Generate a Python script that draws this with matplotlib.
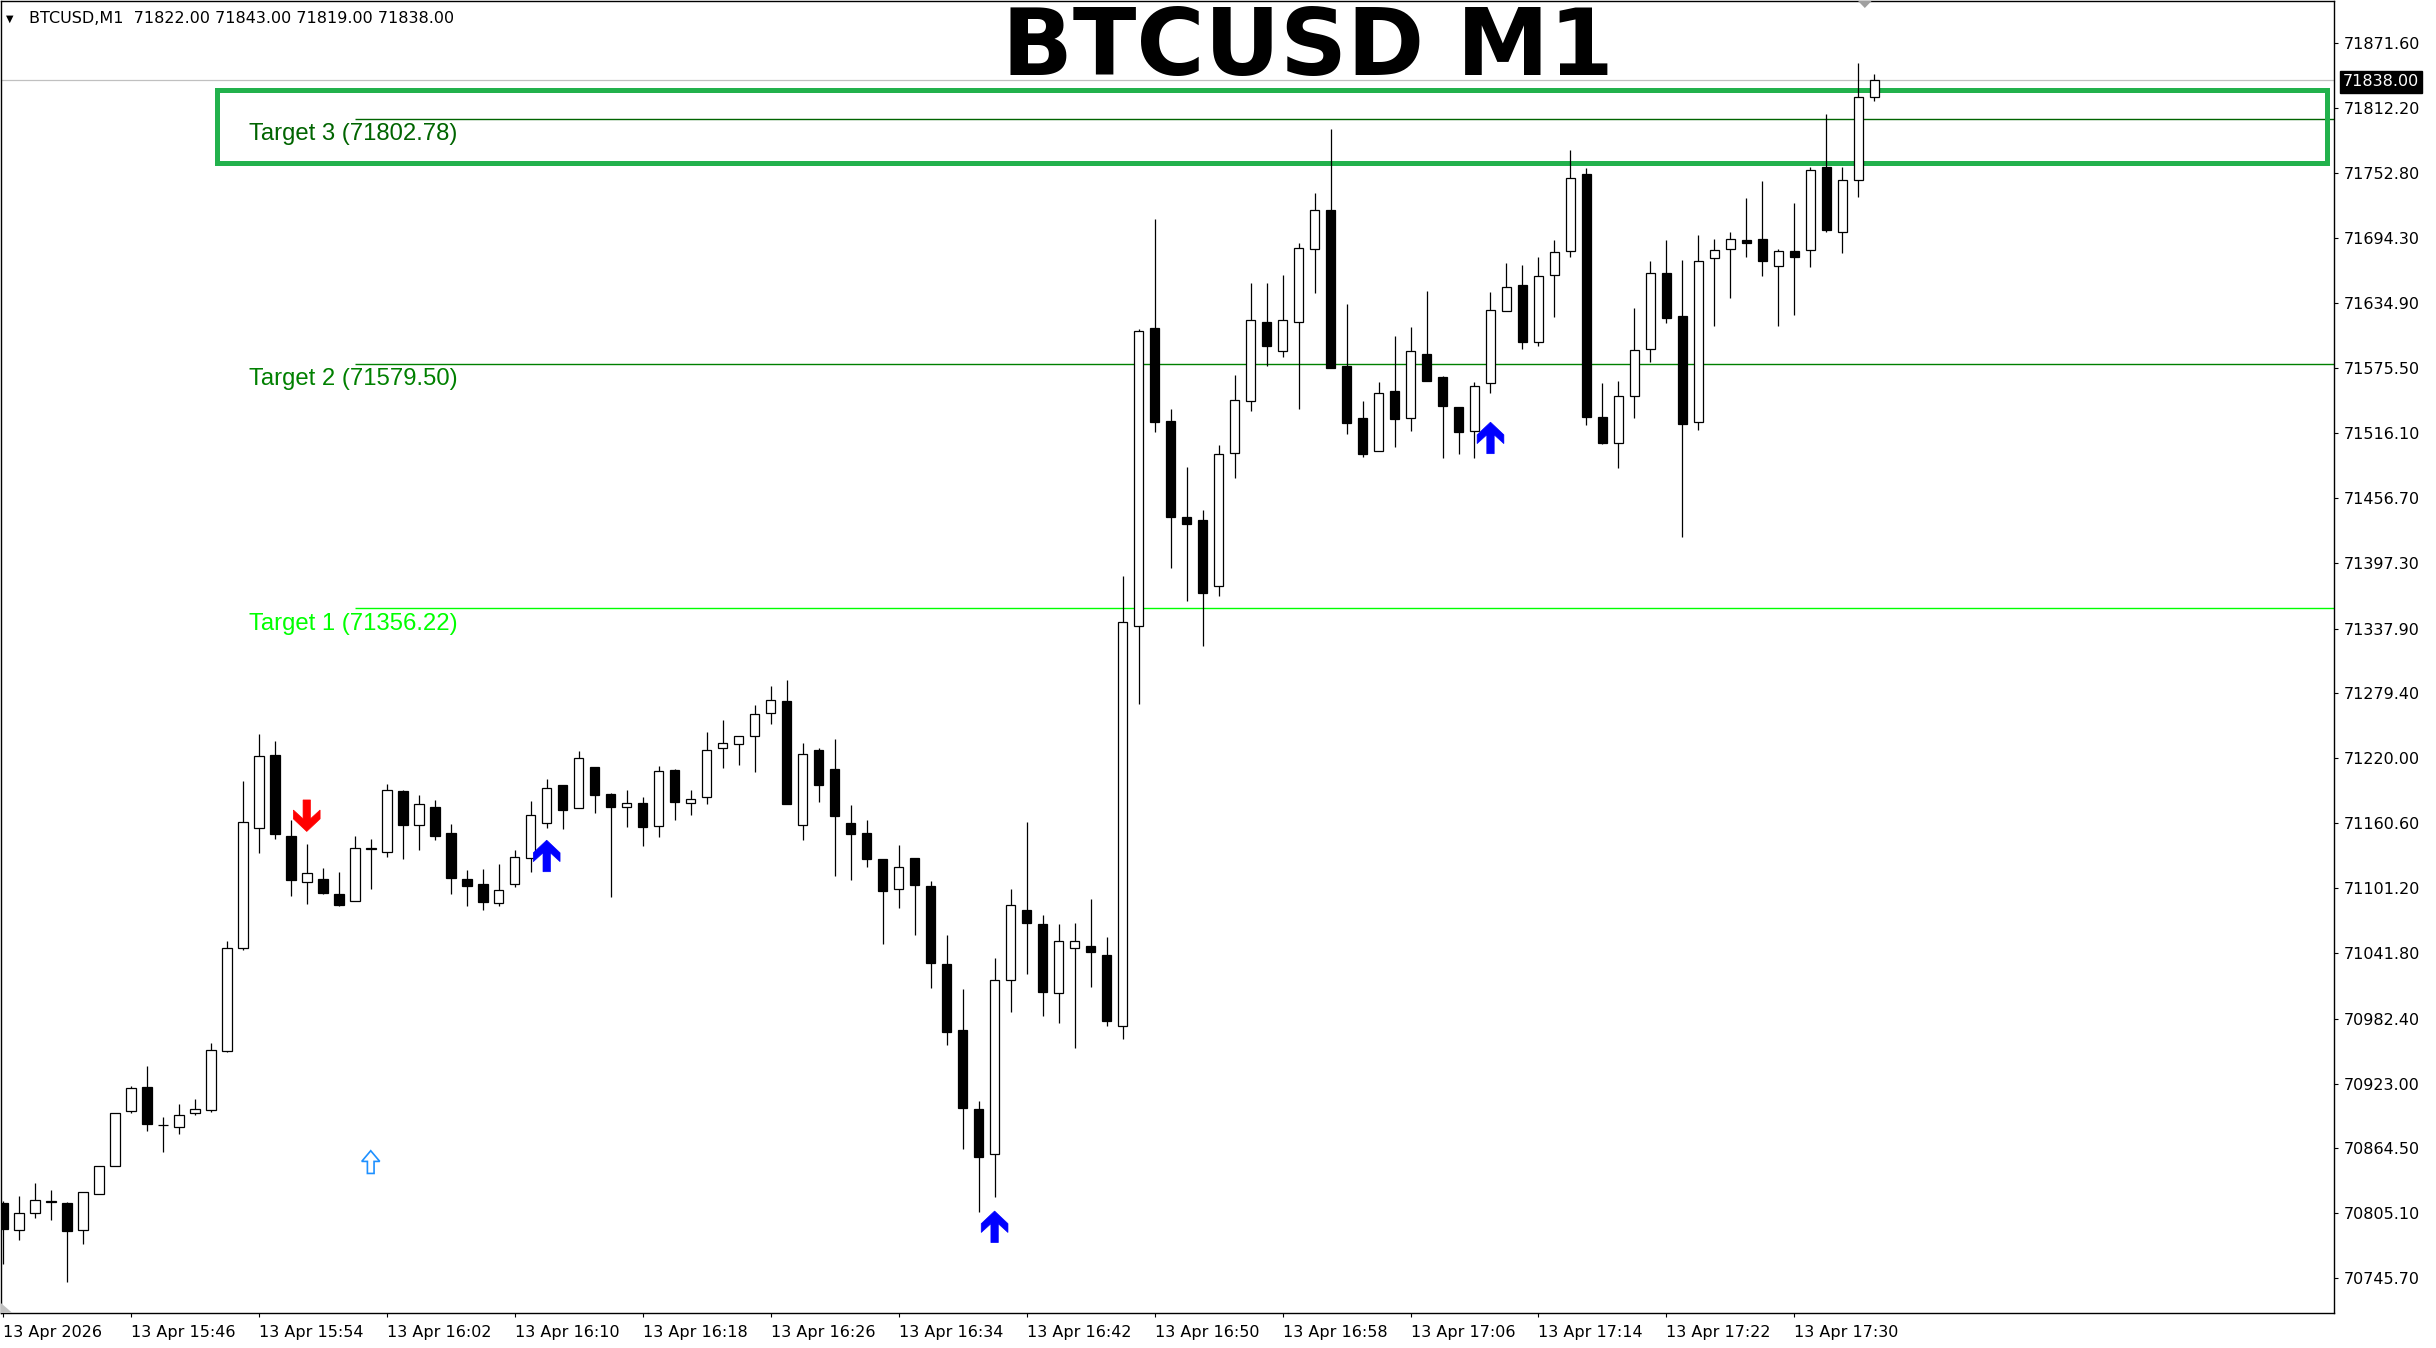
import numpy as np
import matplotlib
matplotlib.use("Agg")
import matplotlib.pyplot as plt
from matplotlib.patches import Rectangle, Polygon

plt.rcParams['font.family'] = ['DejaVu Sans']

# BTCUSD M1 candles, 15:38 .. 17:35
opens = [70814, 70790, 70805, 70815, 70814, 70790, 70823, 70848, 70898, 70920,
         70885, 70884, 70896, 70899, 70953, 71047, 71156, 71223, 71149, 71107,
         71110, 71096, 71090, 71137, 71134, 71190, 71159, 71175, 71152, 71110,
         71105, 71088, 71105, 71129, 71161, 71195, 71174, 71212, 71187, 71175,
         71179, 71158, 71209, 71179, 71184, 71229, 71233, 71240, 71261, 71272,
         71159, 71227, 71210, 71161, 71152, 71128, 71101, 71129, 71103, 71032,
         70972, 70900, 70859, 71018, 71081, 71069, 71006, 71047, 71049, 71040,
         70976, 71340, 71612, 71527, 71440, 71437, 71377, 71498, 71545, 71617,
         71591, 71617, 71684, 71719, 71577, 71530, 71500, 71554, 71530, 71588,
         71567, 71540, 71518, 71562, 71627, 71651, 71599, 71660, 71682, 71752,
         71531, 71507, 71550, 71593, 71662, 71623, 71526, 71676, 71684, 71692,
         71693, 71668, 71682, 71683, 71759, 71699, 71747, 71822]
highs = [70816, 70821, 70833, 70826, 70815, 70824, 70848, 70896, 70921, 70939,
         70893, 70905, 70909, 70960, 71053, 71199, 71242, 71235, 71163, 71142,
         71120, 71116, 71149, 71146, 71196, 71191, 71186, 71182, 71160, 71118,
         71119, 71123, 71136, 71181, 71201, 71195, 71226, 71212, 71188, 71191,
         71184, 71213, 71210, 71191, 71244, 71255, 71240, 71268, 71286, 71291,
         71234, 71229, 71237, 71177, 71163, 71128, 71141, 71129, 71108, 71059,
         71009, 70907, 71038, 71101, 71162, 71077, 71069, 71070, 71091, 71057,
         71386, 71611, 71711, 71538, 71485, 71446, 71505, 71569, 71653, 71653,
         71660, 71689, 71735, 71793, 71634, 71545, 71563, 71605, 71613, 71646,
         71568, 71540, 71563, 71645, 71671, 71669, 71677, 71692, 71774, 71758,
         71562, 71564, 71630, 71673, 71692, 71674, 71697, 71693, 71699, 71730,
         71746, 71684, 71726, 71759, 71807, 71759, 71853, 71843]
lows = [70759, 70781, 70801, 70799, 70742, 70777, 70823, 70848, 70896, 70880,
        70861, 70877, 70895, 70897, 70952, 71045, 71133, 71146, 71094, 71087,
        71096, 71085, 71090, 71101, 71130, 71128, 71136, 71145, 71096, 71085,
        71081, 71085, 71102, 71116, 71156, 71155, 71174, 71170, 71093, 71157,
        71140, 71148, 71163, 71168, 71178, 71211, 71214, 71207, 71251, 71178,
        71145, 71180, 71112, 71109, 71121, 71050, 71083, 71059, 71010, 70958,
        70864, 70806, 70820, 70988, 71023, 70985, 70978, 70956, 71011, 70976,
        70964, 71269, 71517, 71393, 71363, 71322, 71368, 71475, 71536, 71577,
        71585, 71538, 71644, 71575, 71515, 71494, 71500, 71503, 71518, 71564,
        71493, 71497, 71493, 71553, 71627, 71593, 71595, 71622, 71677, 71523,
        71506, 71484, 71530, 71581, 71616, 71421, 71519, 71614, 71639, 71677,
        71659, 71614, 71624, 71667, 71699, 71680, 71731, 71819]
closes = [70791, 70805, 70817, 70816, 70789, 70824, 70848, 70896, 70919, 70886,
          70885, 70895, 70900, 70954, 71047, 71162, 71222, 71151, 71109, 71115,
          71097, 71086, 71138, 71138, 71191, 71159, 71178, 71149, 71111, 71103,
          71089, 71100, 71130, 71168, 71193, 71173, 71220, 71186, 71175, 71179,
          71157, 71208, 71180, 71183, 71227, 71234, 71240, 71260, 71273, 71178,
          71224, 71195, 71167, 71151, 71128, 71099, 71121, 71104, 71033, 70970,
          70901, 70856, 71018, 71086, 71070, 71007, 71053, 71053, 71043, 70980,
          71344, 71609, 71526, 71440, 71433, 71370, 71497, 71546, 71619, 71595,
          71619, 71685, 71719, 71575, 71525, 71497, 71553, 71529, 71591, 71564,
          71541, 71517, 71559, 71628, 71649, 71599, 71659, 71681, 71749, 71531,
          71507, 71550, 71592, 71662, 71621, 71524, 71673, 71683, 71693, 71689,
          71673, 71682, 71677, 71756, 71701, 71747, 71822, 71838]

time_labels = ["13 Apr 2026", "13 Apr 15:46", "13 Apr 15:54", "13 Apr 16:02",
               "13 Apr 16:10", "13 Apr 16:18", "13 Apr 16:26", "13 Apr 16:34",
               "13 Apr 16:42", "13 Apr 16:50", "13 Apr 16:58", "13 Apr 17:06",
               "13 Apr 17:14", "13 Apr 17:22", "13 Apr 17:30"]
time_label_bars = [0, 8, 16, 24, 32, 40, 48, 56, 64, 72, 80, 88, 96, 104, 112]

price_ticks = [71871.60, 71812.20, 71752.80, 71694.30, 71634.90, 71575.50,
               71516.10, 71456.70, 71397.30, 71337.90, 71279.40, 71220.00,
               71160.60, 71101.20, 71041.80, 70982.40, 70923.00, 70864.50,
               70805.10, 70745.70]

target_names = ["Target 1", "Target 2", "Target 3"]
target_prices = [71356.22, 71579.50, 71802.78]
target_colors = ["#00ff00", "#008000", "#006400"]
target_start_bar = 22
target_label_bar = 15.4

zone_bars = [13.4, 145.3]
zone_prices = [71762.3, 71828.8]

signal_bars = [19, 34, 62, 93]
signal_tips = [71153, 71145, 70807, 71526]
signal_dirs = ["down", "up", "up", "up"]
signal_colors = ["#ff0000", "#0000ff", "#0000ff", "#0000ff"]

hollow_bar = 23
hollow_tip = 70862

current_price = 71838.00
header = "BTCUSD,M1  71822.00 71843.00 71819.00 71838.00"

W, H = 2436, 1348
fig = plt.figure(figsize=(W / 100, H / 100), dpi=100)
fig.patch.set_facecolor("white")
ax = fig.add_axes([0.5 / W, 35 / H, 2333.5 / W, 1312.5 / H])
ax.set_xlim(-0.144, 145.73)
ax.set_ylim(70714.1, 71910.35)

# candles
body_w = 0.6
for i in range(len(opens)):
    o, h, l, c = opens[i], highs[i], lows[i], closes[i]
    ax.vlines(i, l, h, color="black", lw=0.9, zorder=3)
    bottom = min(o, c)
    height = max(abs(c - o), 0.8)
    face = "black" if c < o else "white"
    ax.add_patch(Rectangle((i - body_w / 2, bottom), body_w, height,
                           facecolor=face, edgecolor="black", lw=0.9, zorder=4))

# current price line
ax.axhline(current_price, color="#c0c0c0", lw=0.9, zorder=1)

# target lines and labels
for name, p, col in zip(target_names, target_prices, target_colors):
    ax.hlines(p, target_start_bar, 146, color=col, lw=1.0, zorder=2)
    ax.text(target_label_bar, p - 20, "%s (%.2f)" % (name, p), color=col,
            fontsize=17.2, family=["Liberation Sans", "DejaVu Sans"],
            ha="left", va="baseline", zorder=5)

ax.add_patch(Rectangle((zone_bars[0], zone_prices[0]), zone_bars[1] - zone_bars[0],
                       zone_prices[1] - zone_prices[0], fill=False,
                       edgecolor="#22b14c", lw=3.6, zorder=2))

# signal arrows
arrow_shape = [(0, 1), (0.5, 0.6), (0.5, 0.32), (0.1375, 0.6), (0.1375, 0),
               (-0.1375, 0), (-0.1375, 0.6), (-0.5, 0.32), (-0.5, 0.6)]
hollow_shape = [(0, 1), (0.5, 0.53), (0.185, 0.53), (0.185, 0), (-0.185, 0),
                (-0.185, 0.53), (-0.5, 0.53)]


def arrow_points(xc, tip, w, h, down, shape):
    pts = []
    for sx, sy in shape:
        if down:
            pts.append((xc + sx * w, tip + (1 - sy) * h))
        else:
            pts.append((xc + sx * w, tip - (1 - sy) * h))
    return pts


for b, t, d, col in zip(signal_bars, signal_tips, signal_dirs, signal_colors):
    pts = arrow_points(b, t, 1.67, 28.7, d == "down", arrow_shape)
    ax.add_patch(Polygon(pts, closed=True, facecolor=col, edgecolor=col,
                         lw=0.5, zorder=6))

pts = arrow_points(hollow_bar, hollow_tip, 1.125, 20.7, False, hollow_shape)
ax.add_patch(Polygon(pts, closed=True, facecolor="white", edgecolor="#1e90ff",
                     lw=1.2, zorder=6))

# small grey markers
ax.add_patch(Polygon([(-0.144, 70714.1), (-0.144, 70723.5), (0.6, 70714.1)],
                     closed=True, facecolor="#c0c0c0", edgecolor="none", zorder=7))
ax.add_patch(Polygon([(115.95, 71910.3), (116.85, 71910.3), (116.4, 71903.5)],
                     closed=True, facecolor="#a0a0a0", edgecolor="none", zorder=7))

# axes styling
for s in ax.spines.values():
    s.set_color("black")
    s.set_linewidth(1.0)

ax.set_xticks(time_label_bars)
ax.set_xticklabels(time_labels)
for lab in ax.get_xticklabels():
    lab.set_horizontalalignment("left")
ax.tick_params(axis="x", direction="out", length=3, width=0.8, pad=5.5,
               labelsize=11.5, colors="black")

ax.yaxis.tick_right()
ax.set_yticks(price_ticks)
ax.set_yticklabels(["%.2f" % v for v in price_ticks])
ax.tick_params(axis="y", direction="out", length=3, width=0.8, pad=4,
               labelsize=11.5, colors="black")

ax.annotate("%.2f" % current_price, xy=(1, current_price),
            xycoords=("axes fraction", "data"), xytext=(6.3, -1.5),
            textcoords="offset points", ha="left", va="center", color="white",
            fontsize=11.5,
            bbox=dict(boxstyle="square,pad=0.2", fc="black", ec="black"),
            zorder=10, annotation_clip=False)

# header and title
fig.text(6 / W, 1 - 22 / H, "\u25bc", fontsize=7, ha="left", va="baseline",
         color="black")
fig.text(29 / W, 1 - 23 / H, header, fontsize=11.5, ha="left", va="baseline",
         color="black")
fig.text(1307.5 / W, 1 - 75 / H, "BTCUSD M1", fontsize=67, fontweight="bold",
         ha="center", va="baseline", color="black")

fig.savefig("out.png", dpi=100, facecolor="white")
